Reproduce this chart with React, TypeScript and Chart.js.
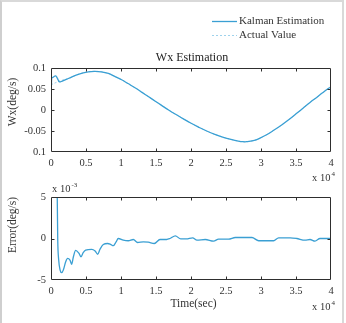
import React, { useEffect, useRef } from 'react';
import { Chart, registerables } from 'chart.js';

Chart.register(...registerables);

// Angular rate Wx (deg/s) over time (s)
const kalmanTime = [0, 90, 300, 660, 900, 1190, 1600, 2470, 3900, 5330, 6300, 7190, 8190, 9100, 10090, 11000, 12000, 13000, 13900, 14900, 15800, 16800, 17670, 18800, 19950, 21000, 22240, 23400, 24620, 25700, 26760, 27400, 27960, 28900, 29860, 30800, 31760, 33000, 34140, 35100, 36040, 37000, 37950, 38800, 39610, 40000];
const kalmanWx = [0, 0.075, 0.078, 0.081, 0.076, 0.067, 0.069, 0.075, 0.085, 0.091, 0.092, 0.091, 0.087, 0.08, 0.072, 0.063, 0.053, 0.042, 0.032, 0.021, 0.011, 0, -0.009, -0.02, -0.031, -0.04, -0.05, -0.058, -0.065, -0.07, -0.074, -0.0755, -0.0755, -0.073, -0.067, -0.059, -0.049, -0.035, -0.021, -0.008, 0.005, 0.018, 0.03, 0.041, 0.051, 0.055];

const actualTime = [0, 800, 1600, 2470, 3900, 5330, 6300, 7190, 8190, 9100, 10090, 11000, 12000, 13000, 13900, 14900, 15800, 16800, 17670, 18800, 19950, 21000, 22240, 23400, 24620, 25700, 26760, 27400, 27960, 28900, 29860, 30800, 31760, 33000, 34140, 35100, 36040, 37000, 37950, 38800, 39610, 40000];
const actualWx = [0.06, 0.066, 0.071, 0.075, 0.085, 0.091, 0.092, 0.091, 0.087, 0.08, 0.072, 0.063, 0.053, 0.042, 0.032, 0.021, 0.011, 0, -0.009, -0.02, -0.031, -0.04, -0.05, -0.058, -0.065, -0.07, -0.074, -0.0755, -0.0755, -0.073, -0.067, -0.059, -0.049, -0.035, -0.021, -0.008, 0.005, 0.018, 0.03, 0.041, 0.051, 0.055];

// Estimation error, in units of 1e-3 deg/s
const errorTime = [800, 880, 960, 1100, 1300, 1520, 1760, 2100, 2370, 2710, 2950, 3200, 3520, 4000, 4290, 4600, 4950, 5810, 6300, 6670, 7000, 7470, 8090, 8500, 8900, 9300, 9610, 10330, 11040, 11760, 12370, 13190, 13900, 14760, 15570, 16520, 17000, 17760, 18530, 19330, 20230, 20850, 22040, 23230, 23940, 25370, 26330, 28710, 29660, 31800, 32520, 34190, 35100, 36290, 37000, 37710, 38430, 40000];
const errorVal = [14, 6, 0, -2.6, -3.8, -4.12, -3.8, -2.8, -2.4, -2.6, -3.1, -2.2, -1.43, -1.8, -2.2, -1.7, -1.4, -1.3, -1.5, -1.9, -1.3, -0.72, -0.6, -0.7, -0.87, -0.4, 0, -0.2, -0.27, -0.12, -0.48, -0.4, -0.44, -0.6, -0.12, -0.12, 0, 0.32, -0.05, -0.05, 0.08, -0.2, -0.12, -0.32, -0.08, -0.08, 0.12, 0.12, -0.27, -0.27, 0.08, 0.08, 0, -0.2, -0.12, -0.32, 0, 0];

const timeTicks = [0, 5000, 10000, 15000, 20000, 25000, 30000, 35000, 40000];
const timeTickLabels = ['0', '0.5', '1', '1.5', '2', '2.5', '3', '3.5', '4'];
const wxTicks = [-0.1, -0.05, 0, 0.05, 0.1];
const wxTickLabels = ['0.1', '-0.05', '0', '0.05', '0.1'];
const errTicks = [-5, 0, 5];
const errTickLabels = ['-5', '0', '5'];
const seriesNames = ['Kalman Estimation', 'Actual Value'];

const FONT = '"Liberation Serif", "Times New Roman", serif';
const TEXT = '#333333';
const FRAME = '#2e2e2e';
const BLUE = '#3a9fd3';
const LIGHT_BLUE = '#9ed2ec';

type Note = { text: string; x: number; y: number; size?: number; rotate?: boolean; align?: CanvasTextAlign; sup?: string; color?: string };

// Box around the plot area with short inward ticks on all four sides
const boxTicks = {
  id: 'boxTicks',
  afterDatasetsDraw(chart: any) {
    const { ctx, chartArea: a, scales } = chart;
    const L = Math.round(a.left) + 0.5;
    const R = Math.round(a.right) - 0.5;
    const T = Math.round(a.top) + 0.5;
    const B = Math.round(a.bottom) - 0.5;
    const len = 3;
    ctx.save();
    ctx.strokeStyle = FRAME;
    ctx.lineWidth = 1;
    ctx.beginPath();
    ctx.rect(L, T, R - L, B - T);
    scales.x.ticks.forEach((t: any) => {
      const px = Math.round(scales.x.getPixelForValue(t.value)) + 0.5;
      if (px <= L + 1 || px >= R - 1) return;
      ctx.moveTo(px, B); ctx.lineTo(px, B - len);
      ctx.moveTo(px, T); ctx.lineTo(px, T + len);
    });
    scales.y.ticks.forEach((t: any) => {
      const py = Math.round(scales.y.getPixelForValue(t.value)) + 0.5;
      if (py <= T + 1 || py >= B - 1) return;
      ctx.moveTo(L, py); ctx.lineTo(L + len, py);
      ctx.moveTo(R, py); ctx.lineTo(R - len, py);
    });
    ctx.stroke();
    ctx.restore();
  },
};

// Free text: titles, axis names and exponent markers
const freeText = {
  id: 'freeText',
  afterDraw(chart: any, _args: any, opts: any) {
    const ctx = chart.ctx;
    (opts.notes || []).forEach((n: Note) => {
      const size = n.size || 11;
      ctx.save();
      ctx.fillStyle = n.color || TEXT;
      ctx.font = `${size}px ${FONT}`;
      ctx.textBaseline = 'middle';
      ctx.textAlign = n.align || 'center';
      ctx.translate(n.x, n.y);
      if (n.rotate) ctx.rotate(-Math.PI / 2);
      ctx.fillText(n.text, 0, 0);
      if (n.sup) {
        const w = ctx.measureText(n.text).width;
        ctx.font = `${Math.round(size * 0.62)}px ${FONT}`;
        ctx.textAlign = 'left';
        ctx.fillText(n.sup, w + 1, -4);
      }
      ctx.restore();
    });
  },
};

// Line-sample legend drawn from the datasets
const lineLegend = {
  id: 'lineLegend',
  afterDraw(chart: any, _args: any, opts: any) {
    if (!opts || !opts.show) return;
    const ctx = chart.ctx;
    chart.data.datasets.forEach((ds: any, i: number) => {
      const y = opts.y + i * opts.gap + 0.5;
      ctx.save();
      ctx.strokeStyle = ds.borderColor;
      ctx.lineWidth = ds.borderWidth;
      ctx.setLineDash(ds.borderDash || []);
      ctx.beginPath();
      ctx.moveTo(opts.x, y);
      ctx.lineTo(opts.x + opts.len, y);
      ctx.stroke();
      ctx.setLineDash([]);
      ctx.fillStyle = TEXT;
      ctx.font = `${opts.size}px ${FONT}`;
      ctx.textBaseline = 'middle';
      ctx.textAlign = 'left';
      ctx.fillText(ds.label, opts.x + opts.len + 2, y);
      ctx.restore();
    });
  },
};

function axis(min: number, max: number, values: number[], labels: string[], horizontal: boolean, size: number) {
  return {
    type: 'linear' as const,
    min,
    max,
    grid: { display: false, drawTicks: false },
    border: { display: false },
    afterBuildTicks: (s: any) => { s.ticks = values.map((v) => ({ value: v })); },
    afterFit: (s: any) => { if (horizontal) s.height = size; else s.width = size; },
    ticks: {
      autoSkip: false,
      maxRotation: 0,
      padding: 5,
      color: TEXT,
      font: { family: FONT, size: 10.5 },
      callback: (_v: any, i: number) => labels[i],
    },
  };
}

export default function App() {
  const topRef = useRef<HTMLCanvasElement>(null);
  const botRef = useRef<HTMLCanvasElement>(null);

  useEffect(() => {
    const top = new Chart(topRef.current!, {
      type: 'line',
      data: {
        datasets: [
          {
            label: seriesNames[0],
            data: kalmanTime.map((t, i) => ({ x: t, y: kalmanWx[i] })),
            borderColor: BLUE,
            borderWidth: 1.3,
            pointRadius: 0,
            tension: 0.4,
          },
          {
            label: seriesNames[1],
            data: actualTime.map((t, i) => ({ x: t, y: actualWx[i] })),
            borderColor: LIGHT_BLUE,
            borderWidth: 1,
            borderDash: [2, 2],
            pointRadius: 0,
            tension: 0.4,
          },
        ],
      },
      options: {
        responsive: false,
        animation: false,
        events: [],
        layout: { padding: { top: 68, left: 0, right: 15, bottom: 0 } },
        scales: {
          x: axis(0, 40000, timeTicks, timeTickLabels, true, 34),
          y: axis(-0.1, 0.1, wxTicks, wxTickLabels, false, 51),
        },
        plugins: {
          legend: { display: false },
          tooltip: { enabled: false },
          lineLegend: { show: true, x: 212, y: 21, gap: 14, len: 25, size: 11 },
          freeText: {
            notes: [
              { text: 'Wx Estimation', x: 192, y: 58, size: 12, color: '#222' },
              { text: 'Wx(deg/s)', x: 12.5, y: 102, size: 11.5, rotate: true },
              { text: 'x 10', sup: '4', x: 312, y: 178, size: 10.5, align: 'left' },
            ],
          },
        } as any,
      },
      plugins: [boxTicks, freeText, lineLegend],
    } as any);

    const bot = new Chart(botRef.current!, {
      type: 'line',
      data: {
        datasets: [
          {
            label: 'Error',
            data: errorTime.map((t, i) => ({ x: t, y: errorVal[i] })),
            borderColor: BLUE,
            borderWidth: 1.3,
            pointRadius: 0,
            cubicInterpolationMode: 'monotone',
          },
        ],
      },
      options: {
        responsive: false,
        animation: false,
        events: [],
        layout: { padding: { top: 17, left: 0, right: 15, bottom: 0 } },
        scales: {
          x: axis(0, 40000, timeTicks, timeTickLabels, true, 43),
          y: axis(-5, 5, errTicks, errTickLabels, false, 51),
        },
        plugins: {
          legend: { display: false },
          tooltip: { enabled: false },
          freeText: {
            notes: [
              { text: 'x 10', sup: '-3', x: 52, y: 9, size: 10.5, align: 'left' },
              { text: 'Error(deg/s)', x: 12.5, y: 45, size: 11.5, rotate: true },
              { text: 'Time(sec)', x: 193.5, y: 124, size: 11.5 },
              { text: 'x 10', sup: '4', x: 312, y: 127, size: 10.5, align: 'left' },
            ],
          },
        } as any,
      },
      plugins: [boxTicks, freeText],
    } as any);

    return () => {
      top.destroy();
      bot.destroy();
    };
  }, []);

  return (
    <div style={{ position: 'absolute', left: 0, top: 0, width: 346, height: 323, background: '#fff', overflow: 'hidden' }}>
      <canvas ref={topRef} width={346} height={186} style={{ position: 'absolute', left: 0, top: 0 }} />
      <canvas ref={botRef} width={346} height={143} style={{ position: 'absolute', left: 0, top: 180 }} />
      <div
        style={{
          position: 'absolute', left: 0, top: 0, width: 344, height: 323, boxSizing: 'border-box',
          borderTop: '2px solid #d9d9d9', borderLeft: '2px solid #cfcfcf', borderRight: '2px solid #d9d9d9',
          pointerEvents: 'none',
        }}
      />
    </div>
  );
}
